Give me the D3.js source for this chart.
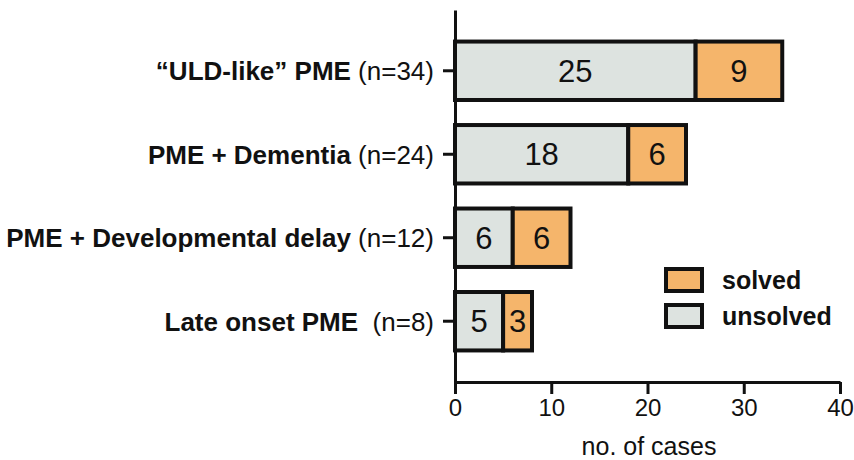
<!DOCTYPE html>
<html><head><meta charset="utf-8">
<script src="https://cdn.jsdelivr.net/npm/d3@7"></script>
<style>body{margin:0;background:#fff}svg{display:block}text{font-family:"Liberation Sans",Arial,sans-serif}</style>
</head><body>
<svg id="c" width="854" height="460"></svg>
<script>
const categories = ["\u201CULD-like\u201D PME", "PME + Dementia", "PME + Developmental delay", "Late onset PME "];
const countLabels = ["(n=34)", "(n=24)", "(n=12)", "(n=8)"];
const unsolved = [25, 18, 6, 5];
const solved = [9, 6, 6, 3];
const xTicks = [0, 10, 20, 30, 40];
const seriesNames = ["solved", "unsolved"];
const colors = {solved: "#f5b56b", unsolved: "#dde3e0"};

const svg = d3.select("#c");
const x = d3.scaleLinear().domain([0, 40]).range([455, 840]);
const y = d3.scaleBand().domain(categories).range([10, 382]).paddingInner(0.3).paddingOuter(0.378);

const rows = categories.map((c, i) => ({c, u: unsolved[i], s: solved[i], n: countLabels[i]}));

// bars
const g = svg.append("g");
rows.forEach(r => {
  const segs = [{k: "unsolved", x0: 0, x1: r.u, v: r.u}, {k: "solved", x0: r.u, x1: r.u + r.s, v: r.s}];
  segs.forEach(s => {
    g.append("rect").attr("x", x(s.x0)).attr("y", y(r.c))
      .attr("width", x(s.x1) - x(s.x0)).attr("height", y.bandwidth())
      .attr("fill", colors[s.k]).attr("stroke", "#111").attr("stroke-width", 4);
    g.append("text").attr("x", (x(s.x0) + x(s.x1)) / 2).attr("y", y(r.c) + y.bandwidth() / 2)
      .attr("dy", "0.36em").attr("text-anchor", "middle").attr("font-size", 31).attr("fill", "#111").text(s.v);
  });
});

// axes
const yAxis = svg.append("g").attr("transform", "translate(455,0)")
  .call(d3.axisLeft(y).tickSize(12).tickSizeOuter(0).tickFormat(""));
const xAxis = svg.append("g").attr("transform", "translate(0,382)")
  .call(d3.axisBottom(x).tickValues(xTicks).tickSize(12).tickSizeOuter(0).tickPadding(5));
[yAxis, xAxis].forEach(a => {
  a.select(".domain").attr("stroke", "#111").attr("stroke-width", 3);
  a.selectAll(".tick line").attr("stroke", "#111").attr("stroke-width", 3);
});
xAxis.selectAll(".tick text").attr("font-size", 24).attr("fill", "#111")
  .attr("font-family", "Liberation Sans, Arial, sans-serif");

// category labels
rows.forEach(r => {
  const t = svg.append("text").attr("x", 434).attr("y", y(r.c) + y.bandwidth() / 2).attr("dy", "0.36em")
    .attr("text-anchor", "end").attr("font-size", 26).attr("fill", "#111").style("white-space", "pre");
  t.append("tspan").attr("font-weight", "bold").text(r.c + " ");
  t.append("tspan").text(r.n);
});

svg.append("text").attr("x", 649).attr("y", 446).attr("dy", "0.36em").attr("text-anchor", "middle")
  .attr("font-size", 25).attr("fill", "#111").text("no. of cases");

// legend
seriesNames.forEach((k, i) => {
  const ly = 269 + i * 36;
  svg.append("rect").attr("x", 666).attr("y", ly).attr("width", 36).attr("height", 22)
    .attr("fill", colors[k]).attr("stroke", "#111").attr("stroke-width", 4);
  svg.append("text").attr("x", 722).attr("y", ly + 11).attr("dy", "0.36em").attr("font-size", 25)
    .attr("font-weight", "bold").attr("fill", "#111").text(k);
});
</script>
</body></html>
